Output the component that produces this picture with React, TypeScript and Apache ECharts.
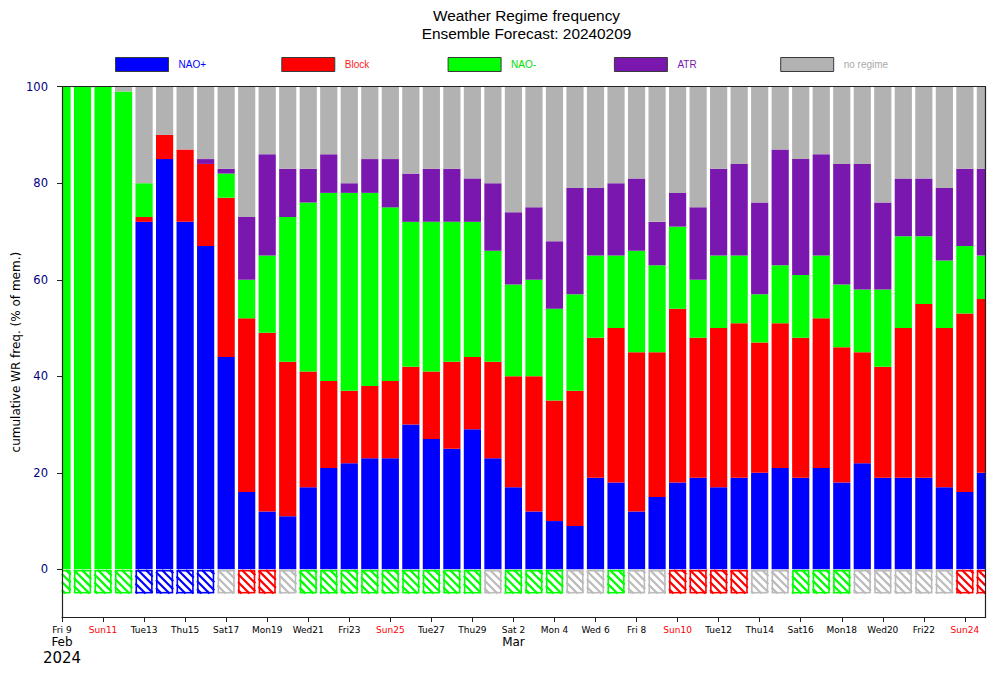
import { useEffect, useRef } from 'react';
import * as echarts from 'echarts';

// ---------- data ----------
const regimeNames = ['NAO+', 'Block', 'NAO-', 'ATR', 'no regime'];
const regimeColors = ['#0000ff', '#ff0000', '#00ff00', '#7a17ae', '#b2b2b2'];
const legendTextColors = ['#0000ff', '#ff2020', '#00e000', '#7a17ae', '#aaaaaa'];
const hatchColors = ['#0000ff', '#ff0000', '#00ff00', '#7a17ae', '#bbbbbb'];

// daily member frequency (%) per regime, Fri 9 Feb .. Mon 25 Mar 2024
const naoPlus = [0, 0, 0, 0, 72, 85, 72, 67, 44, 16, 12, 11, 17, 21, 22, 23, 23, 30, 27, 25, 29, 23, 17, 12, 10, 9, 19, 18, 12, 15, 18, 19, 17, 19, 20, 21, 19, 21, 18, 22, 19, 19, 19, 17, 16, 20];
const block = [0, 0, 0, 0, 1, 5, 15, 17, 33, 36, 37, 32, 24, 18, 15, 15, 16, 12, 14, 18, 15, 20, 23, 28, 25, 28, 29, 32, 33, 30, 36, 29, 33, 32, 27, 30, 29, 31, 28, 23, 23, 31, 36, 33, 37, 36];
const naoMinus = [100, 100, 100, 99, 7, 0, 0, 0, 5, 8, 16, 30, 35, 39, 41, 40, 36, 30, 31, 29, 28, 23, 19, 20, 19, 20, 17, 15, 21, 18, 17, 12, 15, 14, 10, 12, 13, 13, 13, 13, 16, 19, 14, 14, 14, 9];
const atr = [0, 0, 0, 0, 0, 0, 0, 1, 1, 13, 21, 10, 7, 8, 2, 7, 10, 10, 11, 11, 9, 14, 15, 15, 14, 22, 14, 15, 15, 9, 7, 15, 18, 19, 19, 24, 24, 21, 25, 26, 18, 12, 12, 15, 16, 18];
const noRegime = [0, 0, 0, 1, 20, 10, 13, 15, 17, 27, 14, 17, 17, 14, 20, 15, 15, 18, 17, 17, 19, 20, 26, 25, 32, 21, 21, 20, 19, 28, 22, 25, 17, 16, 24, 13, 15, 14, 16, 16, 24, 19, 19, 21, 17, 17];

// dominant regime of each day (hatched boxes)
const dominantRegime = [
  'NAO-', 'NAO-', 'NAO-', 'NAO-', 'NAO+', 'NAO+', 'NAO+', 'NAO+', 'no regime', 'Block', 'Block', 'no regime',
  'NAO-', 'NAO-', 'NAO-', 'NAO-', 'NAO-', 'NAO-', 'NAO-', 'NAO-', 'NAO-', 'no regime',
  'NAO-', 'NAO-', 'NAO-', 'no regime', 'no regime', 'NAO-', 'no regime', 'no regime',
  'Block', 'Block', 'Block', 'Block', 'no regime', 'no regime', 'NAO-', 'NAO-', 'NAO-',
  'no regime', 'no regime', 'no regime', 'no regime', 'no regime', 'Block', 'Block',
];

// x tick labels every second day, starting Fri 9 Feb
const tickLabels = ['Fri 9', 'Sun11', 'Tue13', 'Thu15', 'Sat17', 'Mon19', 'Wed21', 'Fri23', 'Sun25', 'Tue27', 'Thu29', 'Sat 2', 'Mon 4', 'Wed 6', 'Fri 8', 'Sun10', 'Tue12', 'Thu14', 'Sat16', 'Mon18', 'Wed20', 'Fri22', 'Sun24'];
const monthNames = ['Feb', 'Mar'];
const monthStartDays = [0, 22];
const yearLabel = '2024';
const yTicks = [0, 20, 40, 60, 80, 100];
const titleLines = ['Weather Regime frequency', 'Ensemble Forecast: 20240209'];
const yAxisTitle = 'cumulative WR freq. (% of mem.)';
const hatchBottom = -5;

const seriesValues = [naoPlus, block, naoMinus, atr, noRegime];

export default function App() {
  const ref = useRef<HTMLDivElement>(null);

  useEffect(() => {
    if (!ref.current) return;
    const chart = echarts.init(ref.current, null, { renderer: 'svg' });
    const nDays = naoPlus.length;
    const tickDays = tickLabels.map((_, k) => k * 2);
    const barWidth = 17.2;
    const axisColor = '#222';

    // stacked segments: [day, base, top]
    const running = new Array(nDays).fill(0);
    const barSeries = seriesValues.map((vals, k) => {
      const data = vals.map((v, i) => {
        const base = running[i];
        running[i] += v;
        return [i, base, base + v];
      });
      return {
        type: 'custom',
        name: regimeNames[k],
        silent: true,
        z: 2,
        itemStyle: { color: regimeColors[k] },
        data,
        encode: { x: 0, y: [1, 2] },
        renderItem: (params: any, api: any) => {
          const i = api.value(0) as number;
          const b = api.value(1) as number;
          const t = api.value(2) as number;
          if (t <= b) return null;
          const pb = api.coord([i, b]);
          const pt = api.coord([i, t]);
          const cs = params.coordSys;
          const x0 = Math.max(pb[0] - barWidth / 2, cs.x);
          const x1 = Math.min(pb[0] + barWidth / 2, cs.x + cs.width);
          if (x1 <= x0) return null;
          return {
            type: 'rect',
            shape: { x: x0, y: pt[1], width: x1 - x0, height: pb[1] - pt[1] },
            style: { fill: regimeColors[k] },
          };
        },
      };
    });

    const hatchSeries = {
      type: 'custom',
      name: 'dominant regime',
      silent: true,
      z: 3,
      data: dominantRegime.map((r, i) => [i, 0, regimeNames.indexOf(r)]),
      encode: { x: 0, y: 1 },
      renderItem: (params: any, api: any) => {
        const i = api.value(0) as number;
        const k = api.value(2) as number;
        const color = hatchColors[k];
        const p0 = api.coord([i, 0]);
        const p1 = api.coord([i, hatchBottom]);
        const cs = params.coordSys;
        const gx0 = cs.x;
        const gx1 = cs.x + cs.width;
        const bx0 = p0[0] - barWidth / 2;
        const bx1 = p0[0] + barWidth / 2;
        const by0 = p0[1] + 0.6;
        const by1 = p1[1];
        const cx0 = Math.max(bx0, gx0);
        const cx1 = Math.min(bx1, gx1);
        if (cx1 <= cx0) return null;
        const children: any[] = [];
        const s = 8;
        const hs = { stroke: color, lineWidth: 2.2, fill: 'none' };
        const cStart = Math.floor((by0 - cx1) / s) * s;
        for (let c = cStart; c <= by1 - cx0; c += s) {
          const xa = Math.max(cx0, by0 - c);
          const xb = Math.min(cx1, by1 - c);
          if (xb - xa > 0.3) {
            children.push({ type: 'line', shape: { x1: xa, y1: xa + c, x2: xb, y2: xb + c }, style: hs });
          }
        }
        const sw = 1.6;
        const os = { stroke: color, lineWidth: sw, fill: 'none' };
        const ox0 = bx0 + sw / 2;
        const ox1 = bx1 - sw / 2;
        const oy0 = by0 + sw / 2;
        const oy1 = by1 - sw / 2;
        const hx0 = Math.max(ox0 - sw / 2, gx0);
        const hx1 = Math.min(ox1 + sw / 2, gx1);
        children.push({ type: 'line', shape: { x1: hx0, y1: oy0, x2: hx1, y2: oy0 }, style: os });
        children.push({ type: 'line', shape: { x1: hx0, y1: oy1, x2: hx1, y2: oy1 }, style: os });
        if (ox0 >= gx0) children.push({ type: 'line', shape: { x1: ox0, y1: oy0, x2: ox0, y2: oy1 }, style: os });
        if (ox1 <= gx1) children.push({ type: 'line', shape: { x1: ox1, y1: oy0, x2: ox1, y2: oy1 }, style: os });
        return { type: 'group', children };
      },
    };

    const xLabelFormatter = (value: number) => {
      const k = Math.round(value / 2);
      const lab = tickLabels[k] ?? '';
      let s = lab.startsWith('Sun') ? `{sun|${lab}}` : `{d|${lab}}`;
      const m = monthStartDays.indexOf(value);
      if (m >= 0) s += `\n{m|${monthNames[m]}}`;
      if (value === 0) s += `\n{y|${yearLabel}}`;
      return s;
    };

    const option: any = {
      animation: false,
      backgroundColor: '#ffffff',
      grid: {
        left: 62,
        top: 86.7,
        width: 923.4,
        height: 530.9,
        show: false,
        outerBoundsMode: 'none',
        containLabel: false,
      },
      legend: regimeNames.map((name, k) => ({
        data: [name],
        left: 115 + k * 166.3,
        top: 57,
        padding: 0,
        itemWidth: 53,
        itemHeight: 14,
        icon: 'rect',
        selectedMode: false,
        itemStyle: { color: regimeColors[k], borderColor: '#3a3a3a', borderWidth: 1 },
        textStyle: {
          color: legendTextColors[k],
          fontSize: 10,
          fontFamily: 'Liberation Sans',
          padding: [0, 0, 0, 5],
        },
      })),
      xAxis: [
        {
          type: 'value',
          min: 0,
          max: nDays - 1,
          position: 'bottom',
          z: 10,
          splitLine: { show: false },
          axisLine: { show: true, onZero: false, lineStyle: { color: axisColor, width: 1.2 } },
          axisTick: { show: true, customValues: tickDays, length: 4.5, lineStyle: { color: axisColor, width: 1 } },
          axisLabel: {
            show: true,
            customValues: tickDays,
            margin: 6.4,
            formatter: xLabelFormatter,
            fontFamily: 'DejaVu Sans',
            rich: {
              d: { fontSize: 9, lineHeight: 11, color: '#000', fontFamily: 'DejaVu Sans' },
              sun: { fontSize: 9, lineHeight: 11, color: '#ff0000', fontFamily: 'DejaVu Sans' },
              m: { fontSize: 12, lineHeight: 14, color: '#000', fontFamily: 'DejaVu Sans' },
              y: { fontSize: 15, lineHeight: 18, color: '#000', fontFamily: 'DejaVu Sans' },
            },
          },
        },
        {
          type: 'value',
          min: 0,
          max: nDays - 1,
          position: 'top',
          z: 10,
          splitLine: { show: false },
          axisLine: { show: true, onZero: false, lineStyle: { color: axisColor, width: 1.2 } },
          axisTick: { show: false },
          axisLabel: { show: false },
        },
      ],
      yAxis: [
        {
          type: 'value',
          min: -10,
          max: 100,
          position: 'left',
          z: 10,
          name: yAxisTitle,
          nameLocation: 'middle',
          nameRotate: 90,
          nameGap: 40,
          nameMoveOverlap: false,
          nameTextStyle: { fontSize: 12, color: '#000', fontFamily: 'DejaVu Sans' },
          splitLine: { show: false },
          axisLine: { show: true, onZero: false, lineStyle: { color: axisColor, width: 1.2 } },
          axisTick: { show: true, customValues: yTicks, length: 5, lineStyle: { color: axisColor, width: 1 } },
          axisLabel: {
            show: true,
            customValues: yTicks,
            margin: 14,
            fontSize: 11.5,
            color: '#000080',
            fontFamily: 'DejaVu Sans',
          },
        },
        {
          type: 'value',
          min: -10,
          max: 100,
          position: 'right',
          z: 10,
          splitLine: { show: false },
          axisLine: { show: true, onZero: false, lineStyle: { color: axisColor, width: 1.2 } },
          axisTick: { show: false },
          axisLabel: { show: false },
        },
      ],
      graphic: titleLines.map((t, k) => ({
        type: 'text',
        x: 526.5,
        y: 15 + k * 18.3,
        silent: true,
        style: {
          text: t,
          fontSize: 15.4,
          fontFamily: 'Liberation Sans',
          fill: '#000',
          textAlign: 'center',
          textVerticalAlign: 'middle',
          align: 'center',
          verticalAlign: 'middle',
        },
      })),
      series: [...barSeries, hatchSeries],
    };

    chart.setOption(option);
    return () => chart.dispose();
  }, []);

  return (
    <div
      ref={ref}
      style={{ position: 'fixed', left: 0, top: 0, width: 993, height: 674, background: '#fff' }}
    />
  );
}
